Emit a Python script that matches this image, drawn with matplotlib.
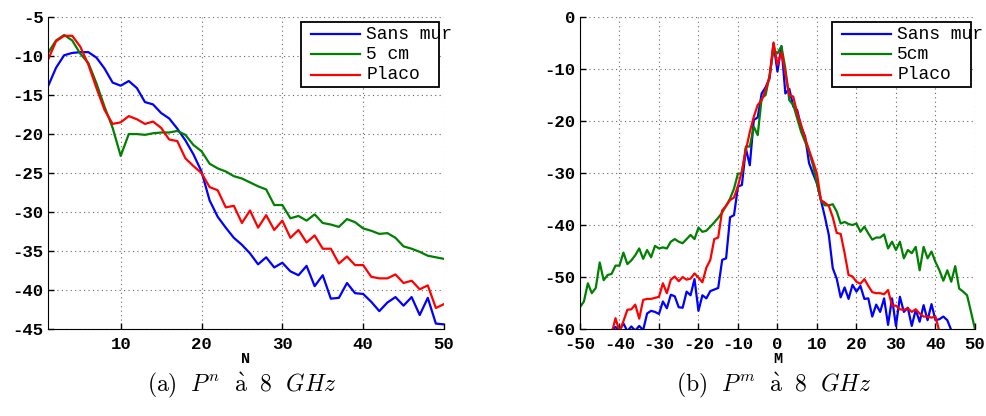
import numpy as np
import matplotlib
matplotlib.use("Agg")
import matplotlib.pyplot as plt
from matplotlib.patches import Rectangle
from matplotlib.lines import Line2D

plt.rcParams["axes.unicode_minus"] = False
plt.rcParams["mathtext.fontset"] = "cm"

# --- data: P^n vs N (left) ---
n_vals = np.arange(1, 51)
pn_sans_mur = [-13.9, -11.5, -9.9, -9.6, -9.5, -9.5, -10.2, -11.6, -13.4, -13.8,
               -13.2, -14.1, -15.9, -16.2, -17.3, -18.0, -19.3, -20.8, -22.6, -24.8,
               -28.5, -30.6, -32.0, -33.3, -34.2, -35.3, -36.7, -35.8, -37.1, -36.5,
               -37.6, -38.1, -36.9, -39.5, -38.1, -41.1, -41.0, -39.1, -40.4, -40.5,
               -41.5, -42.7, -41.6, -40.9, -42.0, -40.9, -43.2, -41.0, -44.3, -44.4]
pn_5cm = [-9.6, -8.0, -7.3, -8.0, -9.7, -10.9, -13.5, -16.5, -19.2, -22.8,
          -20.0, -20.0, -20.1, -19.9, -19.8, -19.8, -19.6, -20.1, -21.4, -22.2,
          -23.8, -24.4, -24.8, -25.4, -25.7, -26.2, -26.7, -27.1, -29.1, -29.1,
          -30.8, -30.5, -31.1, -30.3, -31.4, -31.6, -31.9, -30.9, -31.3, -32.1,
          -32.4, -32.8, -32.7, -33.3, -34.4, -34.7, -35.1, -35.6, -35.8, -36.0]
pn_placo = [-10.5, -8.1, -7.4, -7.4, -8.8, -11.1, -14.1, -16.9, -18.7, -18.5,
            -17.7, -18.1, -18.7, -18.4, -19.2, -20.7, -20.9, -23.1, -24.1, -25.0,
            -26.8, -27.2, -29.4, -29.2, -31.4, -29.8, -32.0, -30.4, -32.3, -31.1,
            -33.3, -32.3, -33.9, -33.0, -34.7, -34.7, -36.6, -35.7, -36.8, -36.8,
            -38.3, -38.5, -38.5, -38.0, -39.1, -38.8, -39.9, -39.4, -42.3, -41.8]

# --- data: P^m vs M (right) ---
m_vals = np.arange(-50, 51)
pm_sans_mur = ([-62.0] * 8 +
               [-60.2, -59.6, -60.3, -58.9, -60.4, -59.5, -60.3, -59.4, -60.2, -57.0,
                -56.5, -56.7, -57.1, -54.7, -56.0, -53.4, -53.7, -55.8, -55.9, -52.8,
                -53.5, -50.4, -56.5, -53.5, -54.1, -52.7, -52.4, -52.1, -46.7, -46.4,
                -38.5, -38.1, -32.6, -32.3, -25.3, -28.5, -19.8, -19.3, -14.7, -13.5,
                -11.8, -5.1, -10.5, -5.6, -14.7, -13.8, -17.2, -17.9, -21.1, -23.0,
                -28.1, -30.1, -32.0, -35.2, -38.4, -41.9, -48.3, -50.3, -53.9, -52.0,
                -54.2, -51.5, -52.8, -51.7, -54.2, -54.1, -57.6, -55.3, -56.7, -54.1,
                -59.2, -54.1, -59.4, -53.8, -56.7, -55.9, -59.4, -56.3, -58.6, -55.4,
                -58.3, -55.2, -58.3, -58.1, -57.6, -58.3, -60.2] +
               [-62.0] * 6)
pm_5cm = [-55.8, -54.7, -51.2, -53.1, -52.1, -47.2, -50.6, -49.6, -49.4, -47.8,
          -47.8, -45.3, -47.5, -46.8, -45.8, -44.5, -46.5, -44.8, -46.2, -44.0,
          -44.5, -44.3, -44.5, -43.2, -42.7, -43.2, -43.5, -42.7, -41.9, -42.7,
          -40.5, -41.3, -41.1, -40.3, -39.5, -38.6, -37.6, -36.3, -34.9, -33.0,
          -30.1, -30.1, -24.9, -24.9, -21.1, -22.7, -15.6, -15.0, -11.2, -6.3,
          -7.0, -5.6, -9.9, -16.0, -16.9, -19.5, -22.1, -24.0, -25.9, -28.5,
          -32.0, -35.2, -36.2, -36.2, -36.0, -37.4, -39.7, -39.4, -39.8, -40.0,
          -39.7, -41.3, -40.3, -41.6, -42.8, -42.4, -42.4, -41.8, -44.5, -43.2,
          -44.8, -43.2, -46.4, -44.8, -45.4, -44.2, -48.7, -44.2, -46.4, -45.1,
          -47.1, -48.7, -50.7, -48.7, -50.9, -47.9, -52.2, -52.8, -53.5, -56.7,
          -60.0]
pm_placo = ([-62.0] * 8 +
            [-61.0, -57.9, -60.5, -58.5, -56.3, -56.2, -55.3, -58.0, -54.4, -54.2,
             -54.2, -54.0, -53.8, -51.2, -53.1, -50.5, -49.9, -50.8, -50.0, -50.5,
             -50.3, -49.3, -50.1, -51.0, -48.2, -46.7, -42.7, -42.4, -37.2, -36.3,
             -35.2, -34.7, -32.5, -29.6, -25.6, -22.1, -19.2, -16.9, -16.0, -14.0,
             -11.5, -4.9, -9.2, -6.7, -10.8, -15.0, -15.3, -18.5, -20.8, -23.3,
             -25.6, -27.8, -30.1, -35.2, -35.7, -36.3, -38.5, -41.5, -41.7, -45.4,
             -49.6, -49.9, -50.9, -51.3, -50.4, -51.7, -52.9, -53.1, -53.1, -53.3,
             -52.5, -55.5, -55.5, -56.2, -56.3, -56.0, -56.7, -56.2, -57.0, -57.6,
             -57.6, -57.8, -57.6, -60.5] +
            [-62.0] * 9)

colors = ["#0000ff", "#008000", "#ff0000"]
tick_font = {"family": "Liberation Mono", "weight": "bold", "size": 12.5}
leg_font = {"family": "Liberation Mono", "size": 13}


def style_axes(ax):
    ax.grid(True, linestyle=(0, (1, 3)), color="#666666", linewidth=0.8)
    ax.spines["top"].set_visible(False)
    ax.spines["right"].set_visible(False)
    ax.tick_params(direction="in", length=4, width=1, pad=3)
    ax.tick_params(axis="x", pad=6)
    for lab in ax.get_xticklabels() + ax.get_yticklabels():
        lab.set_fontproperties(tick_font)


def draw_legend(ax, labels, x0, x1, y0, y1):
    ax.add_patch(Rectangle((x0, y0), x1 - x0, y1 - y0, transform=ax.transAxes,
                           facecolor="white", edgecolor="black", lw=1.3,
                           zorder=5, clip_on=False))
    step = (y1 - y0) / 3.2
    for i, (lab, c) in enumerate(zip(labels, colors)):
        yy = y1 - step * (0.6 + i)
        ax.add_line(Line2D([x0 + 0.025, x0 + 0.15], [yy, yy], color=c, lw=1.6,
                           transform=ax.transAxes, zorder=6, clip_on=False))
        ax.text(x0 + 0.165, yy, lab, transform=ax.transAxes, va="center",
                ha="left", zorder=6, clip_on=False, **leg_font)


fig = plt.figure(figsize=(9.87, 4.16), dpi=100)
ax1 = fig.add_axes([0.0486, 0.209, 0.4012, 0.75])
ax2 = fig.add_axes([0.5876, 0.209, 0.4002, 0.75])

# left panel
for y, c in zip([pn_sans_mur, pn_5cm, pn_placo], colors):
    ax1.plot(n_vals, y, color=c, lw=1.6)
ax1.set_xlim(1, 50)
ax1.set_ylim(-45, -5)
ax1.set_xticks([10, 20, 30, 40, 50])
ax1.set_yticks(np.arange(-45, -4, 5))
ax1.set_xlabel("N", fontfamily="Liberation Mono", fontweight="bold", fontsize=11, labelpad=0)
style_axes(ax1)
draw_legend(ax1, ["Sans mur", "5 cm", "Placo"], 0.639, 0.987, 0.776, 0.984)

# right panel
for y, c in zip([pm_sans_mur, pm_5cm, pm_placo], colors):
    ax2.plot(m_vals, y, color=c, lw=1.6)
ax2.set_xlim(-50, 50)
ax2.set_ylim(-60, 0)
ax2.set_xticks(np.arange(-50, 51, 10))
ax2.set_yticks(np.arange(-60, 1, 10))
ax2.set_xlabel("M", fontfamily="Liberation Mono", fontweight="bold", fontsize=11, labelpad=0)
style_axes(ax2)
draw_legend(ax2, ["Sans mur", "5cm", "Placo"], 0.638, 0.990, 0.776, 0.984)

fig.text(0.245, 0.074, r"$\mathrm{(a)}\ \ P^n\ \ \mathrm{\grave{a}}\ \ 8\ \ GHz$",
         ha="center", va="center", fontsize=17)
fig.text(0.784, 0.074, r"$\mathrm{(b)}\ \ P^m\ \ \mathrm{\grave{a}}\ \ 8\ \ GHz$",
         ha="center", va="center", fontsize=17)

fig.savefig("out.png", dpi=100)
